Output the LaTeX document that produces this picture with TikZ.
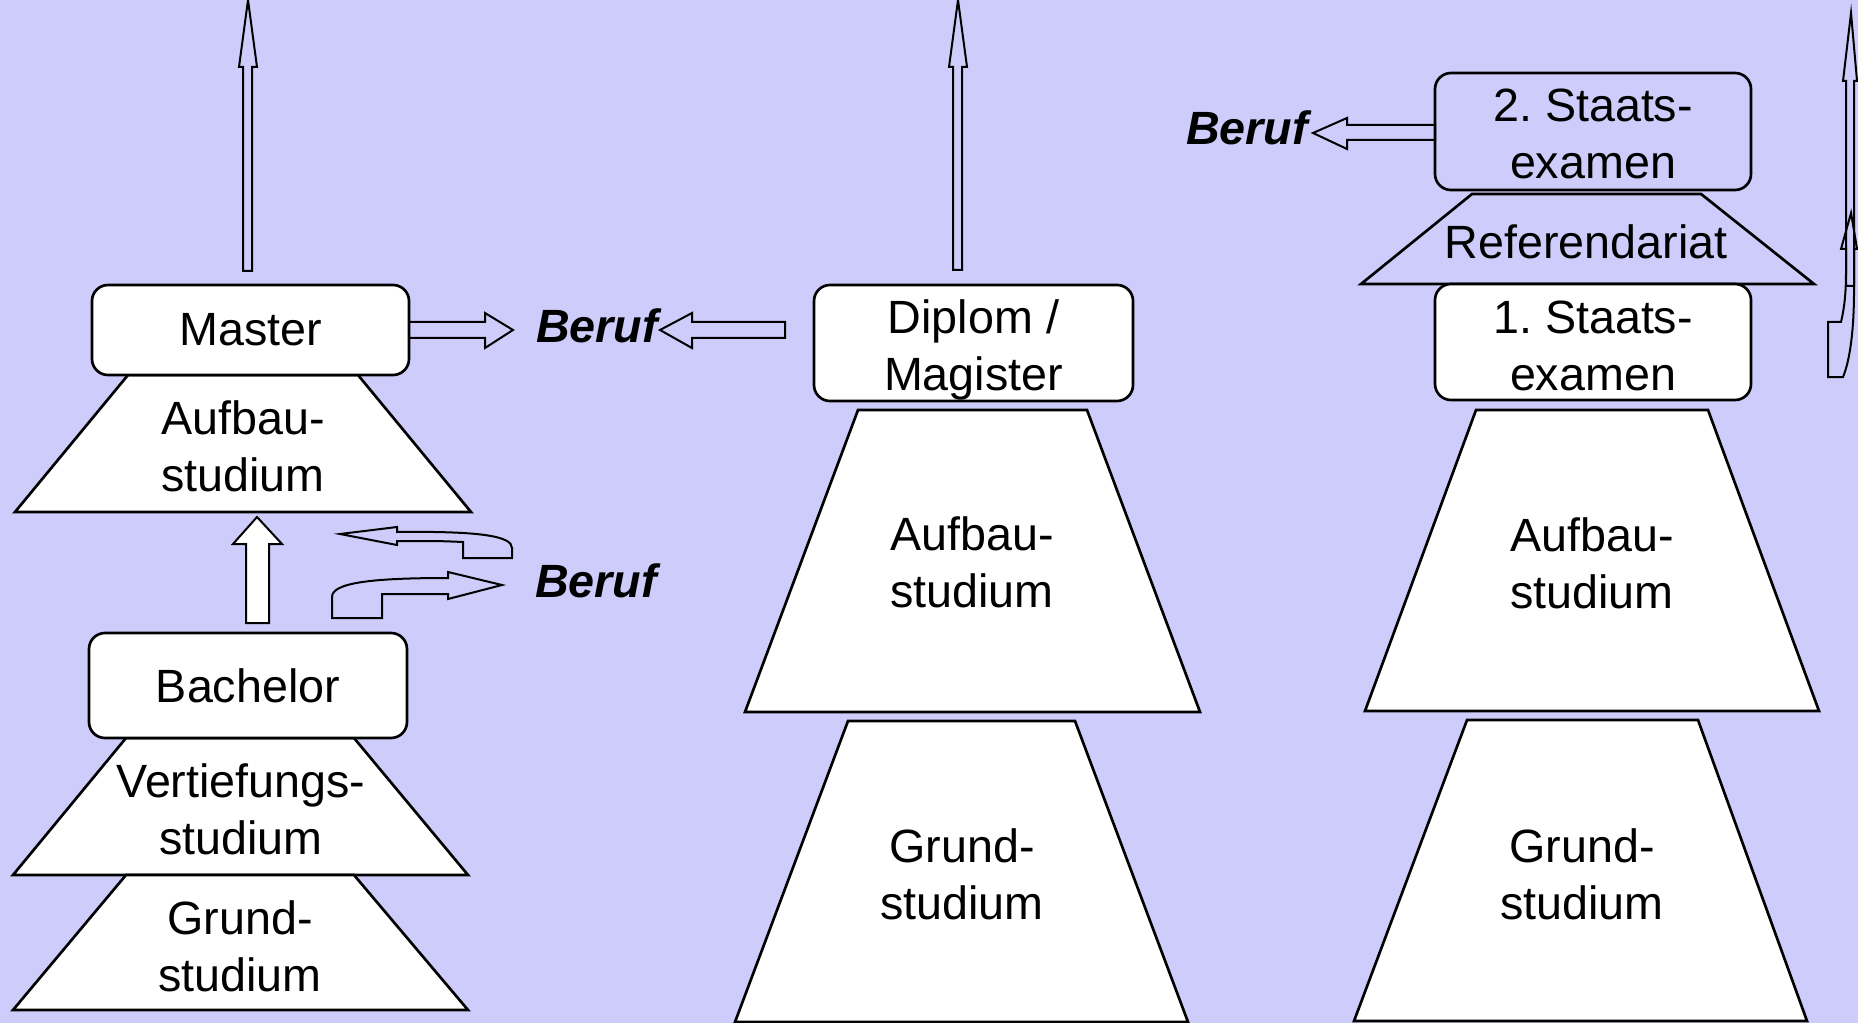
\documentclass[tikz,border=0pt]{standalone}
\usepackage{fontspec}
\setmainfont{Liberation Sans}
\definecolor{backLilac}{RGB}{206,204,250}
\newcommand{\lbl}{\fontsize{35}{42.75}\selectfont\frenchspacing}
\tikzset{every picture/.style={line width=2pt}}
\tikzset{
  box/.style={draw,fill=white,rounded corners=12pt,inner sep=0pt,align=center,font=\lbl},
  openbox/.style={box,fill=none},
  layer/.style={draw,fill=white,line join=miter},
  blockarrow/.style={draw,line width=1.5pt,line join=miter},
  txt/.style={inner sep=0pt,align=center,font=\lbl},
  beruf/.style={inner sep=0pt,font=\lbl\bfseries\itshape}
}

\begin{document}
\begin{tikzpicture}[x=0.75pt,y=0.75pt,yscale=-1,xscale=1]
\useasboundingbox (0,0) rectangle (1858,1023);
\fill[backLilac] (0,0) rectangle (1858,1023);

%Shape: Up Arrow (Master)
\draw[blockarrow] (243,271) -- (243,67) -- (239,67) -- (248,0) -- (257,67) -- (252,67) -- (252,271) -- cycle;
%Shape: Up Arrow (Diplom)
\draw[blockarrow] (953,270) -- (953,67) -- (949,67) -- (958,0) -- (967,67) -- (962,67) -- (962,270) -- cycle;

%Shape: Trapezoid (Aufbaustudium, left)
\draw[layer] (15,512) -- (128,375) -- (358,375) -- (471,512) -- cycle;
%Shape: Trapezoid (Vertiefungsstudium)
\draw[layer] (13,875) -- (126,738) -- (354,738) -- (468,875) -- cycle;
%Shape: Trapezoid (Grundstudium, left)
\draw[layer] (13,1010) -- (126,875) -- (354,875) -- (468,1010) -- cycle;
%Shape: Trapezoid (Aufbaustudium, middle)
\draw[layer] (745,712) -- (858,410) -- (1087,410) -- (1200,712) -- cycle;
%Shape: Trapezoid (Grundstudium, middle)
\draw[layer] (735,1022) -- (848,721) -- (1075,721) -- (1188,1022) -- cycle;
%Shape: Trapezoid (Aufbaustudium, right)
\draw[layer] (1365,711) -- (1476,410) -- (1708,410) -- (1819,711) -- cycle;
%Shape: Trapezoid (Grundstudium, right)
\draw[layer] (1354,1021) -- (1467,720) -- (1698,720) -- (1807,1021) -- cycle;
%Shape: Trapezoid (Referendariat)
\draw[layer,fill=none] (1361,284) -- (1472,194) -- (1701,194) -- (1814,284) -- cycle;

%Shape: Up Arrow (Bachelor to Aufbau)
\draw[blockarrow,fill=white] (246,623) -- (246,544) -- (233,544) -- (257,517) -- (282,544) -- (269,544) -- (269,623) -- cycle;
%Shape: Hook Arrow (back)
\draw[blockarrow] (340,534) -- (397,527) -- (397,532) .. controls (480,531) and (512,536) .. (512,548) -- (512,558) -- (463,558) -- (463,542) .. controls (440,541) .. (397,541) -- (397,545) -- cycle;
%Shape: Hook Arrow (out)
\draw[blockarrow] (502,585) -- (448,599) -- (448,594) -- (382,594) -- (382,618) -- (332,618) -- (332,597) .. controls (332,583) and (370,578) .. (448,578) -- (448,572) -- cycle;

%Shape: Right Arrow (Master to Beruf)
\draw[blockarrow] (406,322) -- (485,322) -- (485,313) -- (513,330) -- (485,348) -- (485,338) -- (406,338) -- cycle;
%Shape: Left Arrow (Diplom to Beruf)
\draw[blockarrow] (785,322) -- (692,322) -- (692,313) -- (660,330) -- (692,348) -- (692,338) -- (785,338) -- cycle;
%Shape: Left Arrow (Staatsexamen to Beruf)
\draw[blockarrow] (1435,125) -- (1347,125) -- (1347,118) -- (1313,133) -- (1347,149) -- (1347,140) -- (1435,140) -- cycle;

%Shape: Up Arrow (far right)
\draw[blockarrow] (1846,286) -- (1846,81) -- (1843,81) -- (1851,13) -- (1857,81) -- (1854,81) -- (1854,286) -- cycle;
%Shape: Curved Up Arrow (far right)
\draw[blockarrow] (1828,377) -- (1828,322) -- (1841,322) .. controls (1845,305) and (1846,290) .. (1846,270) -- (1846,249) -- (1841,249) -- (1851,213) -- (1857,249) -- (1854,249) -- (1854,290) .. controls (1854,330) and (1850,360) .. (1843,377) -- cycle;

% Boxes
\node (master) [box,minimum width=237.75pt,minimum height=67.5pt] at (250.5,330) {Master};
\node (bachelor) [box,minimum width=238.5pt,minimum height=78.75pt] at (248,685.5) {Bachelor};
\node (diplom) [box,minimum width=239.25pt,minimum height=87pt] at (973.5,343) {\rule{0pt}{36pt}Diplom /\\Magister};
\node (staatsI) [box,minimum width=237pt,minimum height=87pt] at (1593,342) {\rule{0pt}{31pt}1. Staats-\\examen};
\node (staatsII) [openbox,minimum width=237pt,minimum height=87.75pt] at (1593,131.5) {\rule{0pt}{28.5pt}2. Staats-\\examen};

% Text Node
\draw (243,446) node (aufbauL) [txt] {Aufbau-\\studium};
% Text Node
\draw (241,809) node (vertiefung) [txt] {Vertiefungs-\\studium};
% Text Node
\draw (240,946) node (grundL) [txt] {Grund-\\studium};
% Text Node
\draw (972,562) node (aufbauM) [txt] {Aufbau-\\studium};
% Text Node
\draw (962,874) node (grundM) [txt] {Grund-\\studium};
% Text Node
\draw (1592,563) node (aufbauR) [txt] {Aufbau-\\studium};
% Text Node
\draw (1582,874) node (grundR) [txt] {Grund-\\studium};
% Text Node
\draw (1586,242) node (referendariat) [txt] {Referendariat};
% Text Node
\draw (597,326) node (berufM) [beruf] {Beruf};
% Text Node
\draw (596,581) node (berufL) [beruf] {Beruf};
% Text Node
\draw (1247,128) node (berufR) [beruf] {Beruf};

\end{tikzpicture}
\end{document}
